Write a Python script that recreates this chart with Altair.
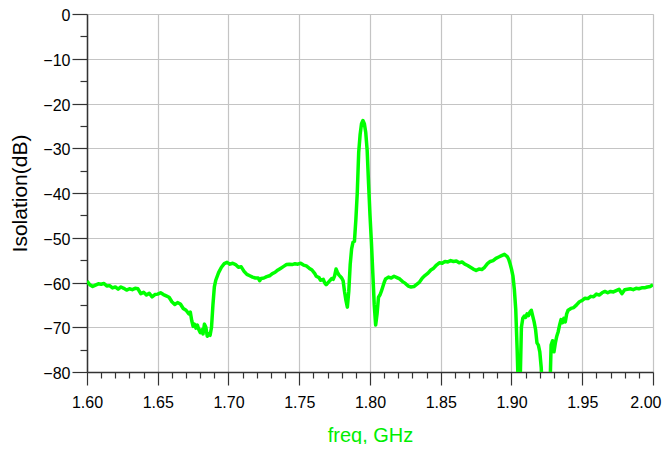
import altair as alt
import pandas as pd

freq = [
    1.600, 1.602, 1.604, 1.606, 1.608, 1.610, 1.612, 1.614, 1.616, 1.618,
    1.620, 1.622, 1.624, 1.626, 1.628, 1.630, 1.632, 1.634, 1.636, 1.638,
    1.640, 1.642, 1.644, 1.646, 1.648, 1.650, 1.652, 1.654, 1.656, 1.658,
    1.660, 1.662, 1.664, 1.666, 1.668, 1.670, 1.672, 1.673, 1.674, 1.675,
    1.676, 1.677, 1.678, 1.679, 1.680, 1.681, 1.682, 1.683, 1.684, 1.685,
    1.686, 1.687, 1.688, 1.689, 1.690, 1.691, 1.693, 1.695, 1.697, 1.699,
    1.701, 1.703, 1.705, 1.707, 1.709, 1.711, 1.713, 1.715, 1.717, 1.719,
    1.721, 1.722, 1.723, 1.725, 1.727, 1.729, 1.731, 1.733, 1.735, 1.737,
    1.739, 1.741, 1.743, 1.745, 1.747, 1.749, 1.751, 1.753, 1.755, 1.757,
    1.759, 1.761, 1.762, 1.764, 1.765, 1.767, 1.768, 1.769, 1.771, 1.773,
    1.774, 1.775, 1.776, 1.777, 1.778, 1.780, 1.781, 1.782, 1.783, 1.784,
    1.785, 1.786, 1.787, 1.788, 1.789, 1.790, 1.791, 1.792, 1.793, 1.794,
    1.795, 1.796, 1.797, 1.798, 1.799, 1.800, 1.801, 1.802, 1.803, 1.804,
    1.805, 1.806, 1.807, 1.808, 1.810, 1.811, 1.813, 1.815, 1.817, 1.819,
    1.821, 1.823, 1.825, 1.827, 1.829, 1.831, 1.833, 1.835, 1.837, 1.839,
    1.841, 1.843, 1.845, 1.847, 1.849, 1.851, 1.853, 1.855, 1.857, 1.859,
    1.861, 1.863, 1.865, 1.867, 1.869, 1.871, 1.873, 1.875, 1.877, 1.879,
    1.881, 1.883, 1.885, 1.887, 1.889, 1.891, 1.893, 1.895, 1.897, 1.898,
    1.899, 1.900, 1.901, 1.902, 1.903, 1.904, 1.905, 1.906, 1.907, 1.908,
    1.909, 1.910, 1.911, 1.912, 1.913, 1.914, 1.915, 1.916, 1.917, 1.918,
    1.919, 1.920, 1.921, 1.922, 1.925, 1.927, 1.928, 1.929, 1.930, 1.931,
    1.932, 1.933, 1.934, 1.935, 1.936, 1.937, 1.938, 1.939, 1.940, 1.942,
    1.944, 1.946, 1.948, 1.950, 1.952, 1.954, 1.956, 1.958, 1.960, 1.962,
    1.964, 1.966, 1.968, 1.970, 1.972, 1.974, 1.976, 1.978, 1.980, 1.982,
    1.984, 1.986, 1.988, 1.990, 1.992, 1.994, 1.996, 1.998, 2.000,
]

isolation_db = [
    -59.7, -60.5, -60.9, -60.6, -60.3, -60.4, -60.2, -60.8, -60.7, -61.2,
    -61.0, -61.5, -61.0, -61.3, -61.7, -61.4, -61.6, -61.3, -61.4, -62.5,
    -62.2, -62.8, -62.4, -63.2, -62.7, -62.6, -62.3, -62.7, -63.0, -63.3,
    -64.3, -64.9, -64.5, -64.8, -65.8, -66.2, -67.0, -66.6, -68.5, -69.8,
    -69.3, -70.2, -69.5, -70.5, -71.2, -70.6, -71.5, -69.3, -70.0, -72.0,
    -71.5, -71.8, -70.0, -65.0, -61.0, -59.5, -57.8, -56.6, -55.8, -55.5,
    -55.9, -55.7, -56.0, -56.6, -56.5, -57.5, -58.2, -58.5, -58.8, -59.0,
    -59.0, -59.6, -59.1, -59.0, -58.7, -58.5, -58.0, -57.7, -57.2, -56.8,
    -56.4, -56.0, -55.9, -56.0, -55.8, -55.9, -55.7, -56.1, -56.3, -56.8,
    -57.2, -58.0, -58.6, -58.9, -59.5, -59.3, -60.1, -60.5, -59.8, -59.1,
    -59.3, -58.5, -57.0, -57.7, -58.3, -59.0, -59.6, -62.0, -64.0, -65.5,
    -62.0, -56.0, -52.5, -51.0, -50.8, -46.0, -40.0, -31.0, -27.0, -24.5,
    -23.8, -24.5, -26.5, -30.5, -38.0, -45.0, -51.0, -58.0, -65.0, -69.5,
    -67.0, -63.3, -62.8, -62.0, -60.0, -59.2, -58.8, -59.0, -58.6, -58.9,
    -59.2, -59.8, -60.2, -60.8, -61.0, -60.9, -60.4, -59.9, -59.0, -58.4,
    -57.9, -57.2, -56.8, -56.1, -55.6, -55.7, -55.3, -55.4, -55.1, -55.3,
    -55.2, -55.6, -55.4, -55.9, -56.2, -56.6, -57.0, -57.3, -57.0, -57.1,
    -56.6, -55.8, -55.3, -55.1, -54.6, -54.3, -54.0, -53.7, -54.2, -54.8,
    -55.8, -57.0, -58.5, -61.5, -66.0, -75.0, -86.0, -84.0, -70.0, -68.0,
    -67.5, -67.8, -67.0, -67.4, -66.6, -66.2, -67.5, -68.8, -70.5, -73.5,
    -74.0, -75.5, -79.0, -86.0, -90.0, -86.0, -74.0, -73.0, -75.5, -73.5,
    -72.0, -71.0, -69.5, -68.3, -69.0, -68.0, -68.8, -67.0, -66.2, -65.8,
    -65.6, -65.0, -64.3, -64.0, -63.5, -63.6, -63.1, -63.2, -62.6, -62.8,
    -62.3, -62.0, -62.3, -62.0, -62.1, -61.8, -61.5, -62.5, -61.6, -61.5,
    -61.4, -61.6, -61.3, -61.4, -61.2, -61.2, -61.0, -60.9, -60.5,
]

x_ticks = [round(1.60 + 0.01 * i, 2) for i in range(41)]
y_ticks = [-5 * i for i in range(17)]

df = pd.DataFrame({"freq": freq, "db": isolation_db})

FONT = "Liberation Sans"
x_major = "abs(datum.value*20 - round(datum.value*20)) < 0.001"
x_last = "datum.value > 1.995"
y_major = "datum.value % 10 == 0"

x_axis = alt.Axis(
    values=x_ticks,
    labelExpr=f"({x_major}) ? format(datum.value, '.2f') : ''",
    tickSize={"condition": {"test": x_major, "value": 13}, "value": 6},
    gridOpacity={"condition": {"test": x_major, "value": 1}, "value": 0},
    gridColor="#c4c4c4",
    gridWidth=1.2,
    tickColor="#333333",
    tickWidth=1.2,
    domainColor="#333333",
    domainWidth=1.5,
    labelFont=FONT,
    labelFontSize=16,
    labelColor="#000000",
    labelPadding=9,
    labelFlush=False,
    labelAlign={"condition": {"test": x_last, "value": "right"}, "value": "center"},
    labelOffset={"condition": {"test": x_last, "value": 8}, "value": 0},
    title="freq, GHz",
    titleFont=FONT,
    titleFontSize=20,
    titleFontWeight="normal",
    titleColor="#00ee00",
    titleX=283,
    titleY=63,
    titleBaseline="middle",
    titleAlign="center",
)

y_axis = alt.Axis(
    values=y_ticks,
    labelExpr=f"({y_major}) ? format(datum.value, 'd') : ''",
    tickSize={"condition": {"test": y_major, "value": 15}, "value": 7},
    gridOpacity={"condition": {"test": y_major, "value": 1}, "value": 0},
    gridColor="#c4c4c4",
    gridWidth=1.2,
    tickColor="#333333",
    tickWidth=1.2,
    domainColor="#333333",
    domainWidth=1.5,
    labelFont=FONT,
    labelFontSize=16,
    labelColor="#000000",
    labelPadding=2,
    labelOffset=1.5,
    labelFlush=False,
    title="Isolation(dB)",
    titleFont=FONT,
    titleFontSize=21,
    titleFontWeight="normal",
    titleColor="#000000",
    titleX=-67,
    titleY=179,
    titleBaseline="middle",
    titleAlign="center",
    titleAngle=270,
)

chart = (
    alt.Chart(df)
    .mark_line(color="#00ff00", strokeWidth=3.5, clip=True, strokeJoin="round")
    .encode(
        x=alt.X("freq:Q", scale=alt.Scale(domain=[1.6, 2.0], nice=False, zero=False), axis=x_axis),
        y=alt.Y("db:Q", scale=alt.Scale(domain=[-80, 0], nice=False, zero=False), axis=y_axis),
    )
    .properties(
        width=566,
        height=358,
        autosize=alt.AutoSizeParams(type="none"),
        padding={"left": 79, "top": 6, "right": 9, "bottom": 72},
    )
    .configure_view(stroke="#5a5a5a", strokeWidth=2)
    .configure(background="white")
)

chart.save("out.html", embed_options={"renderer": "svg", "actions": False})
